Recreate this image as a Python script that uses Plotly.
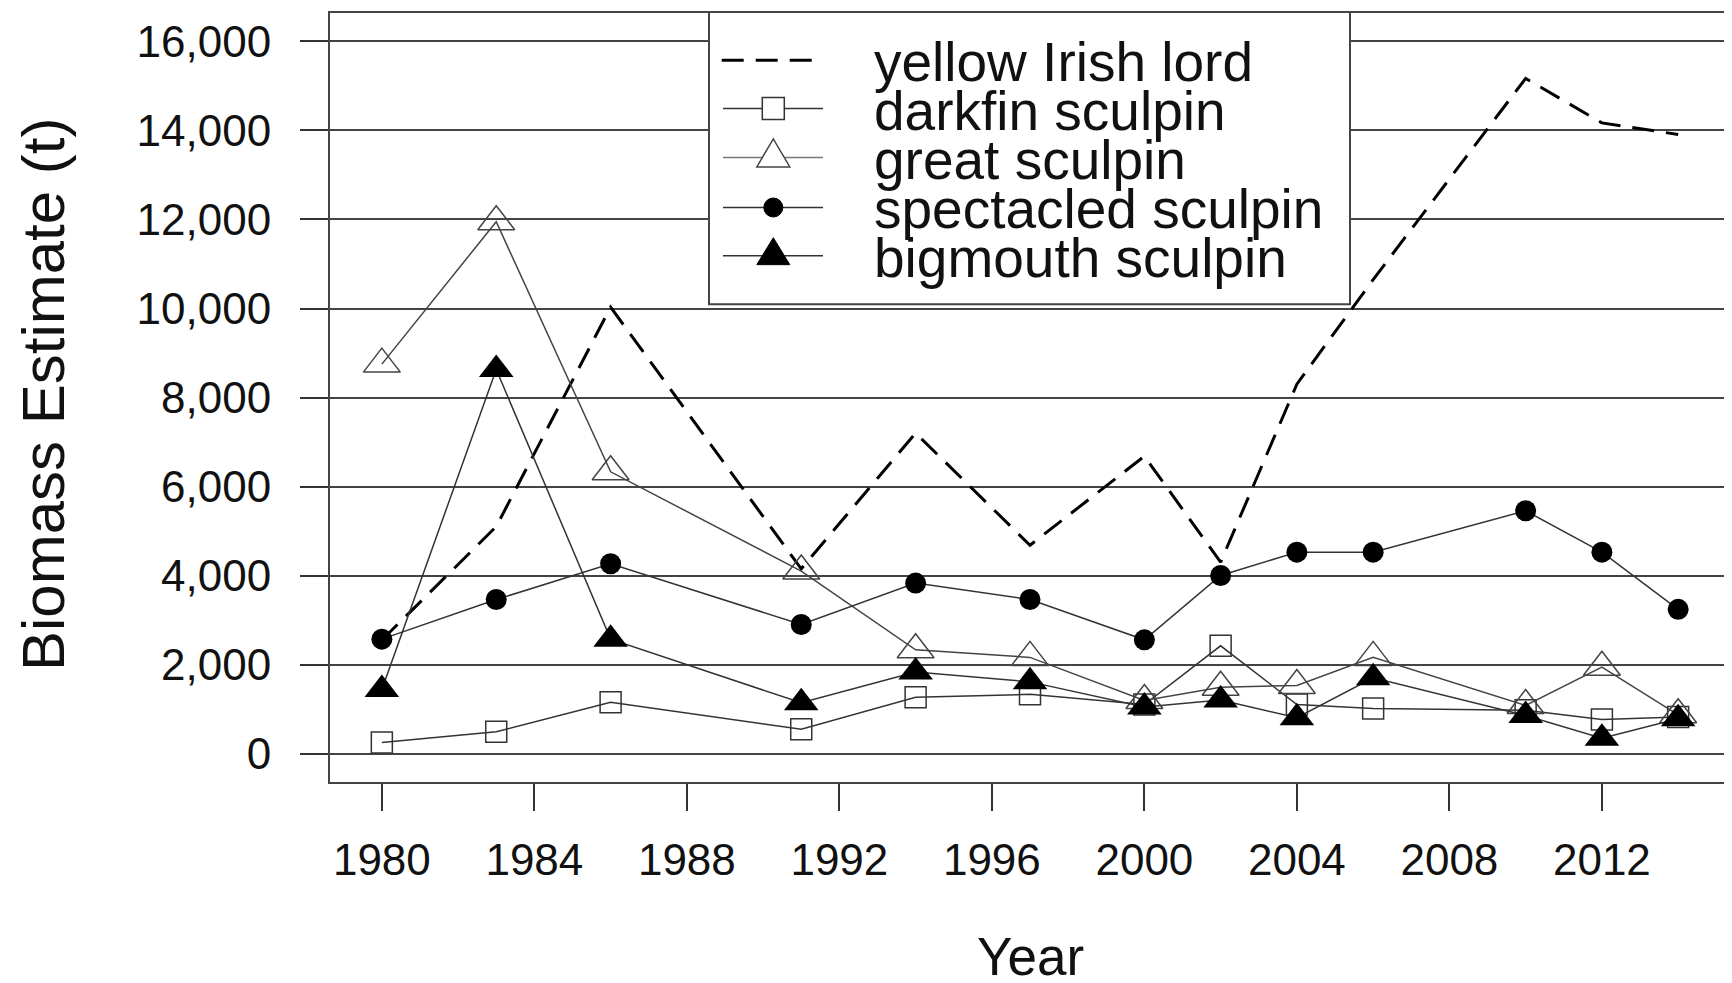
import plotly.graph_objects as go

# ---------------- data ----------------
years = [1980, 1983, 1986, 1991, 1994, 1997, 2000, 2002, 2004, 2006, 2010, 2012, 2014]
yellow_irish_lord = [2550, 5100, 10030, 4150, 7200, 4680, 6680, 4300, 8300, 10650, 15170, 14170, 13910]
darkfin_sculpin = [250, 490, 1150, 545, 1265, 1330, 1100, 2420, 1100, 1010, 970, 765, 820]
great_sculpin = [8750, 11950, 6330, 4100, 2330, 2160, 1190, 1490, 1530, 2160, 1080, 1940, 870]
spectacled_sculpin = [2570, 3460, 4265, 2900, 3830, 3460, 2555, 4000, 4525, 4525, 5455, 4525, 3240]
bigmouth_sculpin = [1440, 8630, 2570, 1140, 1830, 1610, 1045, 1200, 805, 1700, 855, 345, 780]

series_names = ["yellow Irish lord", "darkfin sculpin", "great sculpin",
                "spectacled sculpin", "bigmouth sculpin"]
x_ticks = [1980, 1984, 1988, 1992, 1996, 2000, 2004, 2008, 2012]
y_ticks = [0, 2000, 4000, 6000, 8000, 10000, 12000, 14000, 16000]

FONT = "Liberation Sans, Arial, Helvetica, sans-serif"
W, H = 1732, 983
OFF = 8  # page body margin
# plot area in page pixels: x 330..1730, y 11..782
ML = 330 - OFF
MT = 11 - OFF
MR = W - (1730 - OFF)
MB = H - (782 - OFF)
PW = 1400
PH = 771


def px2paper_x(px):  # page px -> paper
    return (px - 330) / PW


def px2paper_y(py):
    return (782 - py) / PH


fig = go.Figure()

fig.add_trace(go.Scatter(
    x=years, y=yellow_irish_lord, name=series_names[0], mode="lines",
    line=dict(color="black", width=3, dash="22px,12px")))
fig.add_trace(go.Scatter(
    x=years, y=darkfin_sculpin, name=series_names[1], mode="lines+markers",
    line=dict(color="#333333", width=1.5),
    marker=dict(symbol="square-open", size=21, color="#333333", line=dict(width=1.5))))
fig.add_trace(go.Scatter(
    x=years, y=great_sculpin, name=series_names[2], mode="lines+markers",
    line=dict(color="#444444", width=1.5),
    marker=dict(symbol="triangle-up-open", size=32, color="#444444", line=dict(width=1.5))))
fig.add_trace(go.Scatter(
    x=years, y=spectacled_sculpin, name=series_names[3], mode="lines+markers",
    line=dict(color="#333333", width=1.5),
    marker=dict(symbol="circle", size=21, color="black")))
fig.add_trace(go.Scatter(
    x=years, y=bigmouth_sculpin, name=series_names[4], mode="lines+markers",
    line=dict(color="#333333", width=1.5),
    marker=dict(symbol="triangle-up", size=30, color="black")))

# ---------------- custom legend (R-style) ----------------
shapes = []
annotations = []
lx0, lx1, ly0, ly1 = 709, 1350, 303, 10
shapes.append(dict(type="rect", xref="paper", yref="paper", layer="above",
                   x0=px2paper_x(lx0), x1=px2paper_x(lx1),
                   y0=px2paper_y(ly0), y1=px2paper_y(ly1),
                   line=dict(color="#444444", width=2), fillcolor="white"))
row_y = [58.3, 106.7, 156.0, 206.0, 254.3]
sym_x0, sym_x1, sym_xc = 723, 823, 773.3
text_x = 872
# yellow dashed sample
shapes.append(dict(type="line", xref="paper", yref="paper", layer="above",
                   x0=px2paper_x(721.7), x1=px2paper_x(813.3),
                   y0=px2paper_y(row_y[0]), y1=px2paper_y(row_y[0]),
                   line=dict(color="black", width=3, dash="22px,12px")))
line_cols = ["#333333", "#777777", "#333333", "#333333"]
for i, c in enumerate(line_cols):
    yy = px2paper_y(row_y[i + 1])
    shapes.append(dict(type="line", xref="paper", yref="paper", layer="above",
                       x0=px2paper_x(sym_x0), x1=px2paper_x(sym_x1), y0=yy, y1=yy,
                       line=dict(color=c, width=1.5)))
anchor = dict(xref="paper", yref="paper", layer="above", xsizemode="pixel", ysizemode="pixel",
              xanchor=px2paper_x(sym_xc))
# darkfin square
shapes.append(dict(type="rect", **anchor, yanchor=px2paper_y(row_y[1]),
                   x0=-11, x1=11, y0=-11, y1=11,
                   line=dict(color="#333333", width=1.5), fillcolor="white"))
# great triangle open
shapes.append(dict(type="path", **anchor, yanchor=px2paper_y(row_y[2]),
                   path="M -16.5,-9.3 L 16.5,-9.3 L 0,18.7 Z",
                   line=dict(color="#444444", width=1.5), fillcolor="white"))
# spectacled circle
shapes.append(dict(type="circle", **anchor, yanchor=px2paper_y(row_y[3]),
                   x0=-9.5, x1=9.5, y0=-9.5, y1=9.5,
                   line=dict(color="black", width=1), fillcolor="black"))
# bigmouth triangle filled
shapes.append(dict(type="path", **anchor, yanchor=px2paper_y(row_y[4]),
                   path="M -16.5,-9 L 16.5,-9 L 0,18 Z",
                   line=dict(color="black", width=1), fillcolor="black"))

# legend labels: one multi-line text, line pitch ~49 px, glyphs 55 px
legend_text = "<br>".join(f"<span style='font-size:55px'>{n}</span>" for n in series_names)
annotations.append(dict(text=legend_text, xref="paper", yref="paper",
                        x=px2paper_x(text_x), y=px2paper_y(row_y[2] + 2.5),
                        xanchor="left", yanchor="middle", align="left", showarrow=False,
                        font=dict(family=FONT, size=(row_y[4] - row_y[0]) / 4 / 1.3,
                                  color="#111111")))

# axis titles
annotations.append(dict(text="Biomass Estimate (t)", xref="paper", yref="paper",
                        x=px2paper_x(43), y=px2paper_y(394), textangle=-90,
                        xanchor="center", yanchor="middle", showarrow=False,
                        font=dict(family=FONT, size=60, color="#111111")))
annotations.append(dict(text="Year", xref="paper", yref="paper",
                        x=0.5, y=px2paper_y(957),
                        xanchor="center", yanchor="middle", showarrow=False,
                        font=dict(family=FONT, size=53, color="#111111")))

fig.update_layout(
    width=W, height=H,
    margin=dict(l=ML, r=MR, t=MT, b=MB, pad=0),
    paper_bgcolor="white", plot_bgcolor="white",
    showlegend=False,
    shapes=shapes, annotations=annotations,
    font=dict(family=FONT, color="#111111"),
)
fig.update_xaxes(
    range=[1978.64, 2015.36], tickmode="array", tickvals=x_ticks,
    showgrid=False, zeroline=False,
    showline=True, mirror=True, linecolor="#444444", linewidth=2,
    ticks="outside", ticklen=27, tickwidth=1.5, tickcolor="#333333",
    tickfont=dict(family=FONT, size=44, color="#111111"),
    ticklabelstandoff=11,
)
fig.update_yaxes(
    range=[-640, 16640], tickmode="array", tickvals=y_ticks, tickformat=",d",
    showgrid=True, gridcolor="#444444", gridwidth=1.5, zeroline=False,
    showline=True, mirror=True, linecolor="#444444", linewidth=2,
    ticks="outside", ticklen=28, tickwidth=1.5, tickcolor="#333333",
    tickfont=dict(family=FONT, size=44, color="#111111"),
    ticklabelstandoff=20,
)

fig.write_html("out.html")
